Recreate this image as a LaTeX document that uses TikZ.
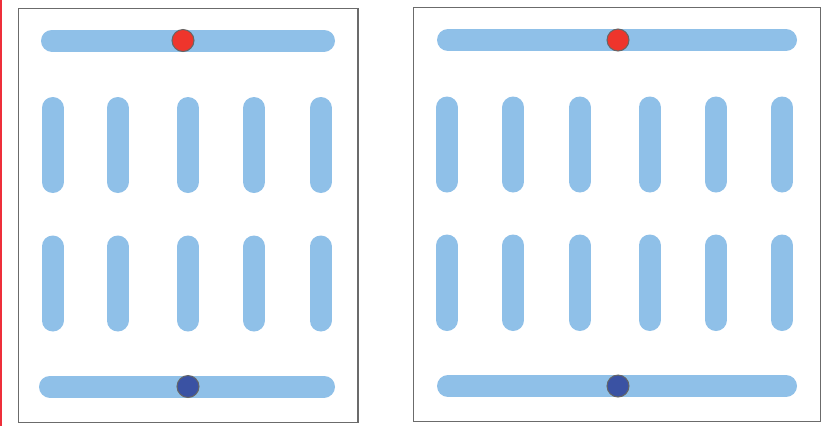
\documentclass[tikz,border=0pt]{standalone}
\begin{document}
\begin{tikzpicture}[x=1bp,y=-1bp,
  frame/.style={draw=black!58,line width=1.2bp},
  bar/.style={draw=barblue,line width=22bp,line cap=round},
  dot/.style={circle,inner sep=0pt,minimum size=22bp,draw=black!60,line width=1bp},
  reddot/.style={dot,fill=dotred},
  bluedot/.style={dot,fill=dotblue}]
\definecolor{barblue}{HTML}{8FC0E8}
\definecolor{dotred}{HTML}{EE352C}
\definecolor{dotblue}{HTML}{3A52A3}
\definecolor{edgered}{HTML}{EE2F3A}
\useasboundingbox (0,0) rectangle (836,426);
\fill[white] (0,0) rectangle (836,426);
\fill[edgered] (0,0) rectangle (2,426);
% left panel
\draw[frame] (18.5,8.5) rectangle (358,422.5);
\draw[bar] (52,40.5) -- (324,40.5);
\draw[bar] (50,386.5) -- (324,386.5);
\foreach \x in {52.5,117.5,188,254,320.5}{
  \draw[bar] (\x,108) -- (\x,182);
  \draw[bar] (\x,246.5) -- (\x,320.5);
}
\node[reddot] (lr) at (183,40.5) {};
\node[bluedot] (lb) at (188,386.5) {};
% right panel
\draw[frame] (413.5,7.5) rectangle (820.5,421.5);
\draw[bar] (448,40) -- (786,40);
\draw[bar] (448,386) -- (786,386);
\foreach \x in {447,513.3,579.7,649.5,716,782.3}{
  \draw[bar] (\x,107.5) -- (\x,181.5);
  \draw[bar] (\x,245.5) -- (\x,320);
}
\node[reddot] (rr) at (618,40) {};
\node[bluedot] (rb) at (618,386) {};
\end{tikzpicture}
\end{document}
